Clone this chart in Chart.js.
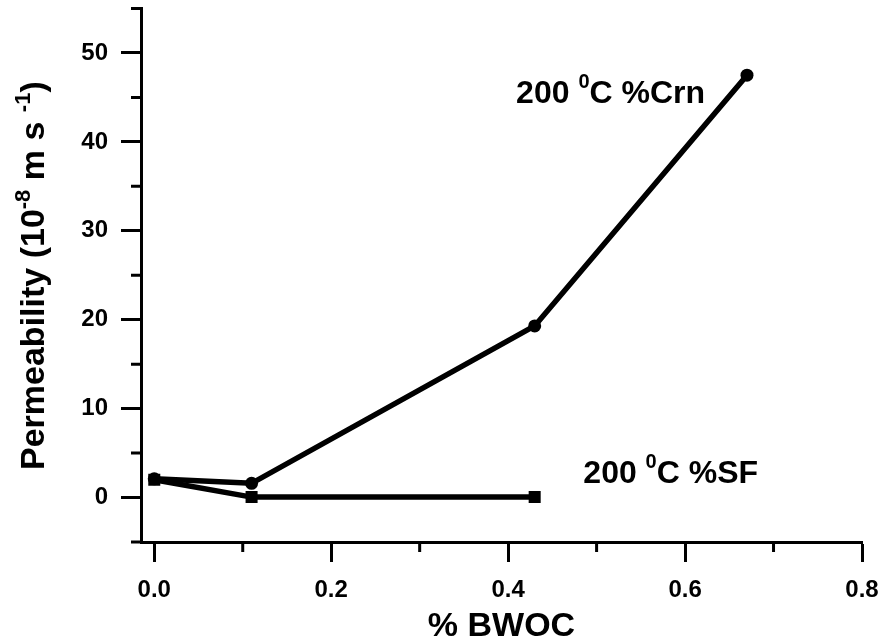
<!DOCTYPE html>
<html>
<head>
<meta charset="utf-8">
<script src="https://cdn.jsdelivr.net/npm/chart.js@4"></script>
<style>
  html, body { margin: 0; padding: 0; background: #fff; }
  #wrap { width: 881px; height: 641px; }
</style>
</head>
<body>
<div id="wrap"><canvas id="chart" width="881" height="641"></canvas></div>
<script>
// Data
const crnX = [0, 0.11, 0.43, 0.67];
const crnY = [2.1, 1.6, 19.3, 47.5];
const sfX = [0, 0.11, 0.43];
const sfY = [2.0, 0.05, 0.05];

const xTickValues = [0, 0.2, 0.4, 0.6, 0.8];
const xMinorValues = [0.1, 0.3, 0.5, 0.7];
const yTickValues = [0, 10, 20, 30, 40, 50];
const yMinorValues = [-5, 5, 15, 25, 35, 45, 55];

const FONT = '"Liberation Sans", Arial, sans-serif';

function toPoints(xs, ys) {
  return xs.map((x, i) => ({ x, y: ys[i] }));
}

// minor ticks, y title with superscripts, curve labels
const extrasPlugin = {
  id: 'extras',
  afterDraw(chart) {
    const { ctx, chartArea, scales } = chart;
    const xs = scales.x;
    const ys = scales.y;
    ctx.save();
    ctx.strokeStyle = '#000';
    ctx.lineWidth = 3;
    ctx.beginPath();
    xMinorValues.forEach((v) => {
      const px = xs.getPixelForValue(v);
      ctx.moveTo(px, chartArea.bottom);
      ctx.lineTo(px, chartArea.bottom + 10);
    });
    yMinorValues.forEach((v) => {
      const py = ys.getPixelForValue(v);
      ctx.moveTo(chartArea.left, py);
      ctx.lineTo(chartArea.left - 10, py);
    });
    ctx.stroke();

    ctx.fillStyle = '#000';
    ctx.textBaseline = 'alphabetic';

    function measureRich(parts, size, supSize) {
      let w = 0;
      parts.forEach((p) => {
        ctx.font = `bold ${p.sup ? supSize : size}px ${FONT}`;
        p.w = ctx.measureText(p.t).width;
        w += p.w;
      });
      return w;
    }
    function paintRich(parts, x0, size, supSize, rise) {
      let x = x0;
      parts.forEach((p) => {
        ctx.font = `bold ${p.sup ? supSize : size}px ${FONT}`;
        ctx.fillText(p.t, x, p.sup ? -rise : 0);
        x += p.w;
      });
    }

    // y axis title
    const yTitle = [
      { t: 'Permeability (10' },
      { t: '-8', sup: true },
      { t: ' m s ' },
      { t: '-1', sup: true },
      { t: ')' },
    ];
    measureRich(yTitle, 34, 22);
    ctx.save();
    ctx.translate(44, 470);
    ctx.rotate(-Math.PI / 2);
    paintRich(yTitle, 0, 34, 22, 14);
    ctx.restore();

    // curve labels
    const labels = [
      { x: 0.409, y: 44.4, parts: [{ t: '200 ' }, { t: '0', sup: true }, { t: 'C %Crn' }] },
      { x: 0.485, y: 1.6, parts: [{ t: '200 ' }, { t: '0', sup: true }, { t: 'C %SF' }] },
    ];
    labels.forEach((l) => {
      measureRich(l.parts, 32, 20);
      ctx.save();
      ctx.translate(xs.getPixelForValue(l.x), ys.getPixelForValue(l.y));
      paintRich(l.parts, 0, 32, 20, 15);
      ctx.restore();
    });
    ctx.restore();
  },
};

const axisCommon = {
  border: { display: true, color: '#000', width: 3 },
  grid: {
    display: true,
    drawOnChartArea: false,
    drawTicks: true,
    tickLength: 20,
    tickWidth: 3,
    tickColor: '#000',
  },
};

new Chart(document.getElementById('chart'), {
  type: 'line',
  data: {
    datasets: [
      {
        label: '200 0C %Crn',
        data: toPoints(crnX, crnY),
        borderColor: '#000',
        backgroundColor: '#000',
        borderWidth: 5.5,
        pointStyle: 'circle',
        pointRadius: 6.5,
        pointBorderWidth: 0,
        tension: 0,
      },
      {
        label: '200 0C %SF',
        data: toPoints(sfX, sfY),
        borderColor: '#000',
        backgroundColor: '#000',
        borderWidth: 5.5,
        pointStyle: 'rect',
        pointRadius: 8.5,
        pointBorderWidth: 0,
        tension: 0,
      },
    ],
  },
  options: {
    responsive: false,
    animation: false,
    layout: { padding: { left: 0, top: 7, right: 19, bottom: 0 } },
    plugins: {
      legend: { display: false },
      tooltip: { enabled: false },
    },
    scales: {
      x: {
        ...axisCommon,
        type: 'linear',
        min: -0.015,
        max: 0.8,
        afterBuildTicks(s) { s.ticks = xTickValues.map((v) => ({ value: v })); },
        afterFit(s) { s.height = 99; s.paddingLeft = 0; s.paddingRight = 0; },
        ticks: {
          color: '#000',
          padding: 14,
          maxRotation: 0,
          font: { family: FONT, size: 24, weight: 'bold' },
          callback: (v) => Number(v).toFixed(1),
        },
        title: {
          display: true,
          text: '% BWOC',
          color: '#000',
          padding: { top: 0, bottom: -6 },
          font: { family: FONT, size: 34, weight: 'bold' },
        },
      },
      y: {
        ...axisCommon,
        type: 'linear',
        min: -5,
        max: 55,
        afterBuildTicks(s) { s.ticks = yTickValues.map((v) => ({ value: v })); },
        afterFit(s) { s.width = 141; s.paddingTop = 0; s.paddingBottom = 0; },
        ticks: {
          color: '#000',
          padding: 13,
          font: { family: FONT, size: 24, weight: 'bold' },
        },
      },
    },
  },
  plugins: [extrasPlugin],
});
</script>
</body>
</html>
